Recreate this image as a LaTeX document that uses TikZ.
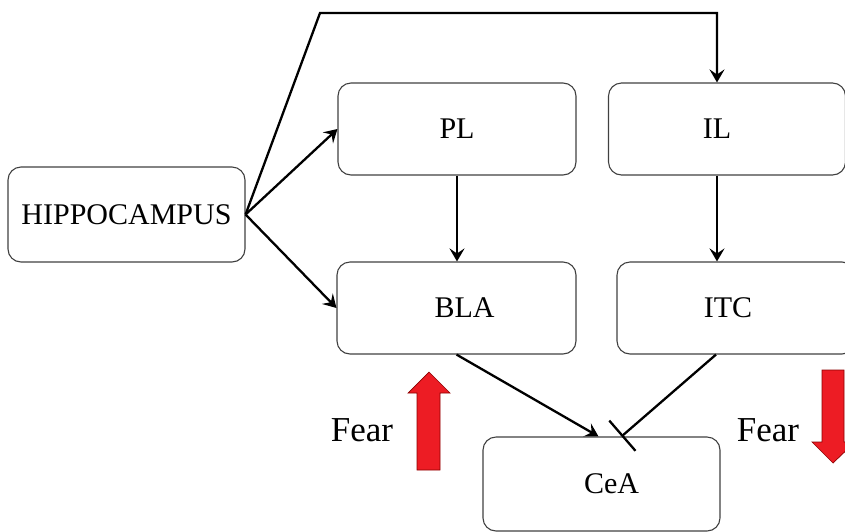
\documentclass[tikz,border=0pt]{standalone}
\usepackage{fontspec}
\setmainfont{Liberation Serif}
\usetikzlibrary{arrows.meta,positioning}

\tikzset{
    region/.style={draw=black!75, line width=1.1pt, rounded corners=13pt,
        minimum width=237pt, minimum height=92pt, inner sep=0pt,
        font=\fontsize{30}{36}\selectfont},
    conn/.style={line width=2.3pt, -{Stealth[length=13pt,width=15pt,inset=5pt]}},
    inhib/.style={line width=2.3pt, -{Bar[width=40pt,line width=2.3pt]}},
    bigarrow/.style={fill={rgb,255:red,237;green,28;blue,36}, draw=red!55!black, line width=0.7pt},
    fearlabel/.style={font=\fontsize{35}{40}\selectfont, inner sep=0pt}
}

\begin{document}
\begin{tikzpicture}[x=1pt, y=-1pt]
    \useasboundingbox (0, 0) rectangle (845, 531);
    \clip (0, 0) rectangle (845, 531);

    \node[region, minimum height=95pt] (hip) at (126.5, 214.5) {HIPPOCAMPUS};
    \node[region, minimum width=238pt] (pl) at (457, 129) {PL};
    \node[region] (il) at (727, 129) {IL\hspace*{20pt}};
    \node[region, minimum width=239pt] (bla) at (456.5, 308) {\hspace*{16pt}BLA};
    \node[region, minimum width=238pt] (itc) at (736, 308) {ITC\hspace*{16pt}};
    \node[region, minimum height=94pt] (cea) at (601.5, 484) {\hspace*{20pt}CeA};
    \coordinate (bend) at (320, 13);

    \draw[conn] (hip.east) -- (pl.west);
    \draw[conn] (hip.east) -- (bla.west);
    \draw[conn] (hip.east) -- (bend) -| ([xshift=-10pt]il.north);
    \draw[conn] (pl.south) -- (pl.south |- bla.north);
    \draw[conn] ([xshift=-10pt]il.south) -- ([xshift=-10pt]il.south |- itc.north);
    \draw[conn] (bla.south) -- ([xshift=-3pt]cea.north);
    \draw[inhib] ([xshift=-20pt]itc.south) -- ([xshift=20pt]cea.north);

    % fear up / down
    \draw[bigarrow] (417, 470) -- (417, 393) -- (408, 393) -- (429, 372)
        -- (450, 393) -- (440, 393) -- (440, 470) -- cycle;
    \draw[bigarrow] (822, 370) -- (844, 370) -- (844, 442) -- (855, 442)
        -- (833, 463) -- (812, 442) -- (822, 442) -- cycle;
    \node[fearlabel] (fearup) at (362, 430) {Fear};
    \node[fearlabel] (feardown) at (768, 430) {Fear};
\end{tikzpicture}
\end{document}
